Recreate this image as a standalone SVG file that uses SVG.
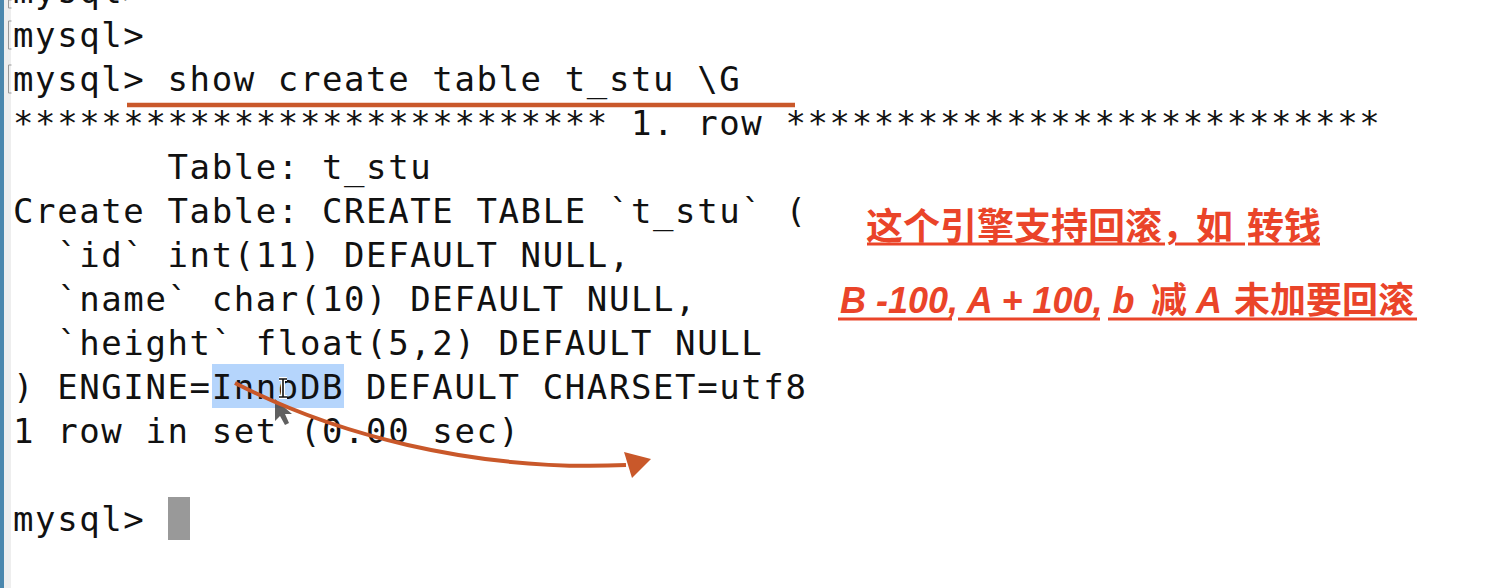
<svg xmlns="http://www.w3.org/2000/svg" width="1512" height="588" viewBox="0 0 1512 588">
  <style>
    .term { font-family: "DejaVu Sans Mono", "Liberation Mono", monospace; font-size: 34px; letter-spacing: 1.6px; fill: #111; white-space: pre; }
    .note { font-family: "Noto Sans CJK SC", "Liberation Sans", sans-serif; font-size: 37px; font-weight: bold; fill: #ea4429; }
    .lat { font-family: "Liberation Sans", "Noto Sans", sans-serif; font-size: 36px; font-weight: bold; font-style: italic; fill: #ea4429; }
    .cjk { font-family: "Noto Sans CJK SC", sans-serif; font-size: 36px; font-weight: bold; fill: #ea4429; }
    .ul { stroke: #ea4429; stroke-width: 3; }
    .brk { fill: none; stroke: #999; stroke-width: 1; }
    .conn { stroke: #c9582a; fill: none; }
  </style>
  <rect x="0" y="0" width="1512" height="588" fill="#ffffff"/>
  <g id="window-edge">
    <rect x="0" y="0" width="4" height="588" fill="#4b87ad"/>
    <rect x="4" y="0" width="7" height="588" fill="#eeeeee"/>
    <path class="brk" d="M11.5,0 H8.5 V8 H11.5"/>
    <path class="brk" d="M11.5,21 H8.5 V49 H11.5"/>
    <path class="brk" d="M11.5,65 H8.5 V93 H11.5"/>
  </g>
  <g id="selection">
    <rect x="212" y="364" width="132" height="44" fill="#b5d5fc"/>
  </g>
  <g id="terminal">
    <text class="term" x="13" y="3">mysql&gt;</text>
    <text class="term" x="13" y="47">mysql&gt;</text>
    <text class="term" x="13" y="91">mysql&gt; show create table t_stu \G</text>
    <text class="term" x="13" y="135">*************************** 1. row ***************************</text>
    <text class="term" x="13" y="179">       Table: t_stu</text>
    <text class="term" x="13" y="223">Create Table: CREATE TABLE `t_stu` (</text>
    <text class="term" x="13" y="267">  `id` int(11) DEFAULT NULL,</text>
    <text class="term" x="13" y="311">  `name` char(10) DEFAULT NULL,</text>
    <text class="term" x="13" y="355">  `height` float(5,2) DEFAULT NULL</text>
    <text class="term" x="13" y="399">) ENGINE=InnoDB DEFAULT CHARSET=utf8</text>
    <text class="term" x="13" y="443">1 row in set (0.00 sec)</text>
    <text class="term" x="13" y="531">mysql&gt;</text>
    <rect x="168" y="497" width="22" height="43" fill="#999999"/>
  </g>
  <g id="mouse-pointers">
    <path d="M279,379 h8 M283,379 v18 M279,397 h8" stroke="#fff" stroke-width="4"/>
    <path d="M279,379 h8 M283,379 v18 M279,397 h8" stroke="#111" stroke-width="1.6"/>
    <polygon points="275,399 275,421 280,416 285,425 289,423 285,414 292,414" fill="#444" opacity="0.85"/>
  </g>
  <g id="note-1">
    <text class="note" y="240"><tspan x="866">这个引擎支持回滚，</tspan><tspan x="1196">如</tspan><tspan x="1247">转钱</tspan></text>
    <line class="ul" x1="867" y1="244" x2="1165" y2="244"/>
    <line class="ul" x1="1175" y1="244" x2="1245" y2="244"/>
    <line class="ul" x1="1248" y1="244" x2="1320" y2="244"/>
  </g>
  <g id="note-2">
    <text y="313"><tspan class="lat" x="840">B -100, A + 100, b</tspan><tspan class="cjk" x="1151">减</tspan><tspan class="lat" x="1196">A</tspan><tspan class="cjk" x="1234">未加要回滚</tspan></text>
    <line class="ul" x1="838" y1="319" x2="952" y2="319"/>
    <line class="ul" x1="958" y1="319" x2="1100" y2="319"/>
    <line class="ul" x1="1108" y1="319" x2="1417" y2="319"/>
  </g>
  <g id="connectors">
    <line class="conn" x1="127" y1="105" x2="795" y2="105" stroke-width="4.5"/>
    <path class="conn" d="M235,383 C330,432 470,472 626,465" stroke-width="4"/>
    <polygon points="651,459 624,452 632,478" fill="#c9582a"/>
  </g>
</svg>
